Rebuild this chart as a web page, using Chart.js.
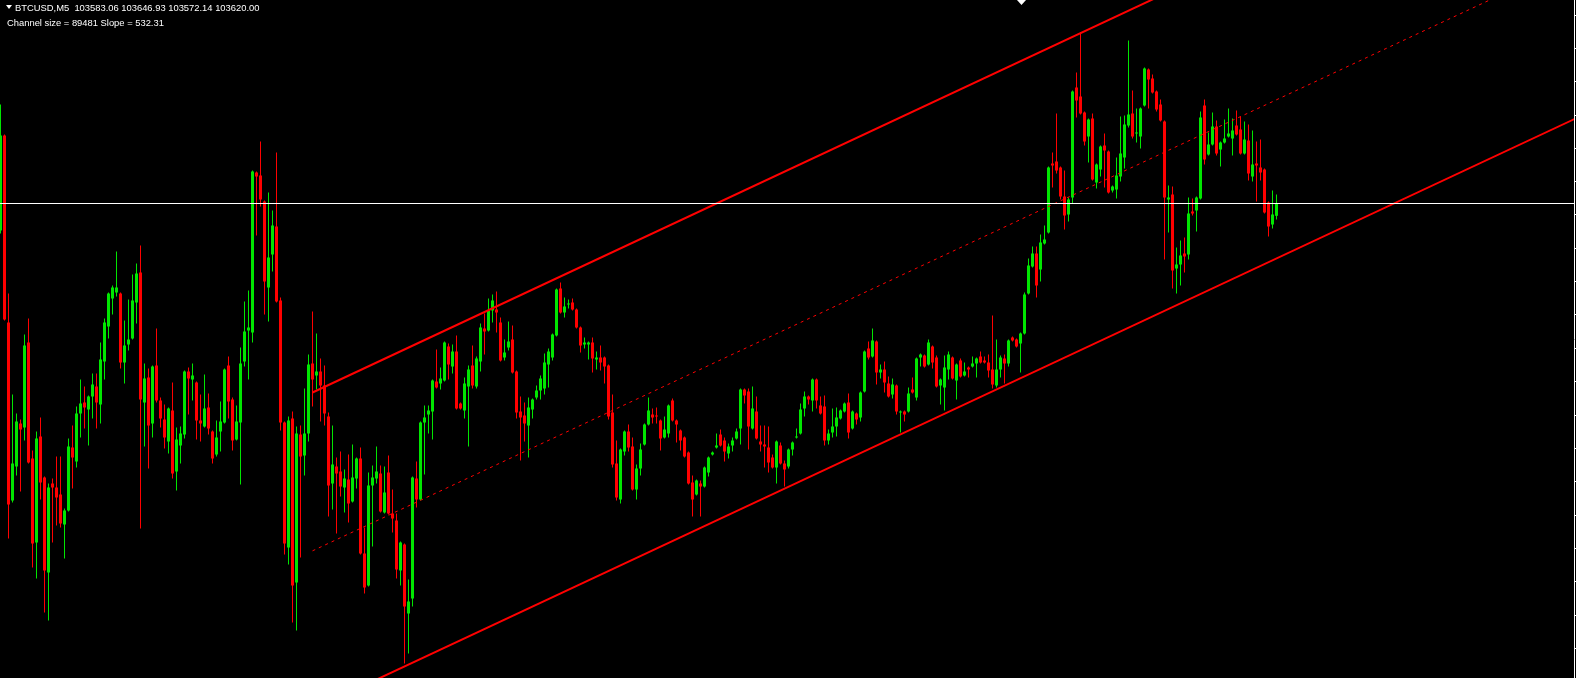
<!DOCTYPE html>
<html lang="en">
<head>
    <meta charset="UTF-8">
    <title>BTCUSD,M5</title>
    <script src="https://cdn.jsdelivr.net/npm/chart.js"></script>
    <style>
        html, body { margin: 0; padding: 0; background: #000; }
        .wrap { position: relative; width: 1576px; height: 678px; overflow: hidden; }
        canvas { display: block; background: #000; }
        .info { position: absolute; color: #fff; font-family: "Liberation Sans", Arial, sans-serif; font-size: 9.4px; line-height: 9px; white-space: pre; }
        #line1 { left: 15px; top: 3px; }
        #line2 { left: 7px; top: 18px; }
    </style>
</head>
<body>
<div class="wrap">
    <canvas id="chart" width="1576" height="678"></canvas>
    <div class="info" id="line1">BTCUSD,M5  103583.06 103646.93 103572.14 103620.00</div>
    <div class="info" id="line2">Channel size = 89481 Slope = 532.31</div>
</div>

<script>
    // BTCUSD M5 candles, one value per bar (oldest first)
    const opens = [
        103539, 103824, 103263, 102729, 102831, 102960, 102948, 103203, 102855, 102603,
        102921, 102798, 102513, 102780, 102768, 102747, 102657, 102699, 102888, 102846,
        102990, 103023, 103002, 103041, 103071, 103017, 103146, 103251, 103335, 103353,
        103350, 103143, 103197, 103215, 103323, 103413, 103023, 103098, 102960, 103134,
        103029, 102972, 102906, 102999, 102816, 102894, 102927, 103116, 103092, 103083,
        102969, 102951, 103008, 102936, 102867, 102936, 102963, 103134, 103032, 102912,
        102963, 103146, 103239, 103233, 103713, 103704, 103626, 103368, 103467, 103551,
        103329, 102963, 102588, 102975, 102483, 102927, 102864, 102930, 103140, 103104,
        103116, 103074, 102981, 102780, 102831, 102816, 102768, 102792, 102726, 102795,
        102855, 102570, 102474, 102774, 102795, 102810, 102693, 102813, 102690, 102669,
        102519, 102597, 102390, 102435, 102795, 102732, 102963, 102987, 102996, 103086,
        103080, 103089, 103191, 103131, 103176, 103020, 102999, 103071, 103134, 103071,
        103146, 103245, 103239, 103299, 103302, 103263, 103158, 103188, 103212, 103116,
        102996, 102984, 102954, 103002, 103038, 103059, 103065, 103137, 103158, 103224,
        103365, 103293, 103317, 103323, 103302, 103248, 103197, 103197, 103203, 103152,
        103158, 103158, 103134, 102993, 102840, 102732, 102876, 102936, 102891, 102762,
        102825, 102897, 102957, 102987, 102984, 102969, 102918, 102930, 103029, 102969,
        102939, 102918, 102873, 102783, 102747, 102780, 102771, 102813, 102867, 102888,
        102927, 102909, 102870, 102894, 102915, 102945, 103062, 103056, 102945, 102996,
        102906, 102897, 102888, 102858, 102828, 102894, 102840, 102831, 102882, 102918,
        102930, 103005, 103041, 103029, 103092, 103014, 103011, 102909, 102933, 102951,
        102975, 102996, 103023, 102945, 102990, 102978, 103056, 103185, 103161, 103206,
        103113, 103122, 103080, 103047, 103074, 102993, 102996, 102996, 103062, 103038,
        103158, 103164, 103137, 103191, 103158, 103074, 103068, 103122, 103158, 103089,
        103149, 103104, 103128, 103131, 103140, 103161, 103149, 103143, 103122, 103074,
        103122, 103155, 103140, 103218, 103212, 103200, 103230, 103350, 103431, 103470,
        103422, 103500, 103533, 103740, 103746, 103728, 103641, 103587, 103638, 103968,
        103941, 103893, 103821, 103875, 103683, 103722, 103794, 103776, 103659, 103662,
        103701, 103758, 103854, 103890, 103830, 103821, 103914, 104022, 103995, 103956,
        103917, 103866, 103632, 103647, 103425, 103437, 103470, 103467, 103596, 103599,
        103635, 103914, 103767, 103797, 103851, 103782, 103803, 103821, 103815, 103854,
        103842, 103770, 103809, 103701, 103740, 103728, 103722, 103623, 103557, 103583.06
    ];
    const highs = [
        103917, 103827, 103350, 103047, 102990, 102972, 103227, 103275, 102879, 102936,
        102978, 102801, 102780, 102795, 102861, 102861, 102705, 102915, 102954, 103011,
        103092, 103071, 103044, 103110, 103110, 103203, 103275, 103353, 103374, 103476,
        103353, 103269, 103332, 103407, 103440, 103494, 103140, 103125, 103134, 103245,
        103038, 103017, 103008, 103083, 102948, 102951, 103119, 103128, 103140, 103086,
        103047, 103107, 103050, 102939, 102969, 103026, 103125, 103161, 103038, 103014,
        103188, 103326, 103359, 103719, 103716, 103806, 103629, 103653, 103599, 103773,
        103338, 102966, 102981, 102996, 102951, 102954, 103065, 103167, 103296, 103230,
        103155, 103134, 102993, 102954, 102858, 102876, 102822, 102867, 102897, 102858,
        102888, 102648, 102813, 102834, 102891, 102834, 102831, 102864, 102762, 102690,
        102606, 102600, 102492, 102801, 102846, 102966, 103014, 103014, 103092, 103182,
        103128, 103206, 103200, 103197, 103224, 103023, 103098, 103134, 103194, 103161,
        103260, 103290, 103335, 103347, 103356, 103278, 103212, 103266, 103254, 103119,
        103041, 103023, 103038, 103035, 103074, 103104, 103170, 103185, 103230, 103365,
        103383, 103338, 103332, 103335, 103305, 103251, 103218, 103206, 103218, 103176,
        103194, 103161, 103137, 103047, 102909, 102885, 102939, 102957, 102918, 102837,
        102900, 102960, 103038, 103005, 103008, 102972, 102981, 103017, 103035, 102972,
        102942, 102921, 102876, 102804, 102792, 102789, 102831, 102861, 102876, 102930,
        102942, 102918, 102900, 102918, 102945, 103065, 103065, 103065, 103071, 103041,
        102954, 102954, 102951, 102867, 102909, 102903, 102849, 102885, 102906, 102945,
        103020, 103056, 103044, 103095, 103095, 103041, 103044, 102942, 103005, 103008,
        103002, 103023, 103050, 102999, 102993, 103056, 103179, 103206, 103245, 103209,
        103137, 103146, 103101, 103095, 103077, 102999, 102999, 103068, 103098, 103158,
        103170, 103167, 103212, 103194, 103164, 103095, 103164, 103176, 103161, 103140,
        103155, 103143, 103131, 103161, 103158, 103176, 103161, 103167, 103284, 103212,
        103164, 103167, 103212, 103221, 103215, 103233, 103353, 103455, 103491, 103491,
        103527, 103554, 103731, 103773, 103890, 103731, 103719, 103638, 103959, 104013,
        104133, 103896, 103875, 103890, 103740, 103794, 103830, 103779, 103674, 103758,
        103881, 103884, 104109, 103959, 103905, 103908, 104028, 104025, 104007, 103959,
        103932, 103869, 103674, 103671, 103488, 103509, 103518, 103638, 103635, 103641,
        103896, 103932, 103833, 103893, 103869, 103806, 103872, 103905, 103875, 103899,
        103881, 103866, 103857, 103839, 103806, 103812, 103725, 103626, 103659, 103646.93
    ];
    const lows = [
        103530, 103269, 102615, 102723, 102804, 102756, 102909, 102840, 102528, 102495,
        102732, 102393, 102369, 102603, 102654, 102648, 102555, 102696, 102765, 102828,
        102918, 102945, 102894, 102975, 102945, 102960, 103092, 103215, 103287, 103341,
        103125, 103080, 103179, 103212, 103260, 102645, 102891, 102825, 102918, 103023,
        102948, 102885, 102870, 102795, 102759, 102840, 102915, 102987, 103029, 102912,
        102906, 102948, 102927, 102840, 102861, 102876, 102960, 102975, 102879, 102909,
        102777, 103131, 103092, 103203, 103524, 103611, 103287, 103266, 103416, 103323,
        102939, 102567, 102537, 102363, 102339, 102558, 102804, 102906, 103011, 103062,
        102966, 102954, 102681, 102702, 102630, 102741, 102693, 102663, 102723, 102765,
        102567, 102450, 102471, 102591, 102780, 102693, 102690, 102687, 102633, 102495,
        102474, 102240, 102270, 102411, 102708, 102729, 102807, 102930, 102912, 103065,
        103062, 103086, 103092, 103110, 103002, 103002, 102975, 102891, 103065, 103065,
        103116, 103167, 103236, 103263, 103233, 103146, 103149, 103179, 103110, 102975,
        102849, 102906, 102858, 102975, 103032, 103032, 103047, 103068, 103149, 103221,
        103290, 103278, 103305, 103299, 103245, 103173, 103185, 103152, 103113, 103122,
        103119, 103080, 102972, 102828, 102729, 102720, 102864, 102876, 102759, 102732,
        102804, 102894, 102954, 102960, 102960, 102879, 102915, 102918, 102966, 102903,
        102879, 102858, 102777, 102681, 102744, 102681, 102768, 102801, 102864, 102885,
        102891, 102846, 102855, 102876, 102912, 102897, 103020, 102882, 102942, 102912,
        102876, 102828, 102813, 102825, 102780, 102837, 102771, 102825, 102864, 102915,
        102927, 102981, 103017, 102996, 103005, 102987, 102894, 102897, 102918, 102921,
        102972, 102993, 102915, 102942, 102957, 102966, 103053, 103152, 103158, 103077,
        103095, 103053, 103038, 103035, 102987, 102933, 102966, 102993, 103050, 103029,
        103131, 103128, 103134, 103125, 103068, 103017, 102999, 103092, 103092, 103032,
        103098, 103101, 103098, 103128, 103098, 103140, 103140, 103098, 103065, 103068,
        103098, 103080, 103131, 103206, 103188, 103113, 103227, 103347, 103428, 103338,
        103386, 103497, 103530, 103668, 103710, 103632, 103542, 103566, 103620, 103878,
        103887, 103794, 103743, 103689, 103665, 103701, 103668, 103650, 103653, 103635,
        103686, 103725, 103848, 103815, 103803, 103785, 103911, 103905, 103950, 103896,
        103866, 103452, 103533, 103365, 103350, 103374, 103413, 103452, 103584, 103536,
        103632, 103737, 103764, 103794, 103764, 103731, 103800, 103818, 103764, 103824,
        103767, 103767, 103689, 103686, 103626, 103689, 103590, 103521, 103545, 103572.14
    ];
    const closes = [
        103824, 103272, 102717, 102840, 102966, 102942, 103194, 102843, 102600, 102915,
        102783, 102519, 102768, 102768, 102738, 102660, 102699, 102891, 102858, 102990,
        103020, 103008, 103041, 103077, 103023, 103152, 103263, 103350, 103368, 103368,
        103143, 103194, 103212, 103329, 103410, 103032, 103095, 102954, 103131, 103029,
        102975, 102918, 103005, 102810, 102912, 102930, 103116, 103095, 103104, 102969,
        102960, 103005, 102945, 102855, 102918, 102966, 103122, 103026, 102909, 102966,
        103140, 103236, 103248, 103716, 103701, 103632, 103386, 103458, 103554, 103326,
        102963, 102600, 102969, 102474, 102930, 102861, 102930, 103137, 103092, 103116,
        103074, 102990, 102774, 102837, 102810, 102771, 102795, 102720, 102798, 102855,
        102570, 102468, 102774, 102798, 102816, 102696, 102753, 102690, 102675, 102522,
        102603, 102411, 102426, 102798, 102732, 102963, 102978, 102999, 103089, 103068,
        103095, 103203, 103137, 103176, 103005, 103005, 103080, 103122, 103074, 103155,
        103248, 103236, 103299, 103329, 103293, 103149, 103173, 103206, 103113, 102993,
        102978, 102960, 103008, 103032, 103059, 103095, 103143, 103176, 103227, 103362,
        103293, 103311, 103320, 103302, 103248, 103194, 103203, 103203, 103155, 103158,
        103143, 103131, 102981, 102837, 102738, 102882, 102936, 102888, 102762, 102825,
        102882, 102957, 102999, 102978, 102981, 102915, 102942, 103014, 102969, 102957,
        102909, 102861, 102780, 102732, 102789, 102771, 102828, 102858, 102873, 102894,
        102894, 102876, 102891, 102909, 102936, 103062, 103044, 102951, 103005, 102915,
        102897, 102891, 102843, 102828, 102906, 102840, 102822, 102882, 102903, 102921,
        103002, 103041, 103032, 103092, 103029, 102990, 102909, 102930, 102951, 102978,
        102999, 103020, 102933, 102996, 102972, 103053, 103176, 103158, 103209, 103113,
        103122, 103083, 103041, 103077, 102996, 102996, 102987, 103050, 103053, 103155,
        103167, 103131, 103203, 103143, 103071, 103092, 103128, 103167, 103095, 103137,
        103101, 103116, 103122, 103140, 103155, 103143, 103143, 103119, 103077, 103122,
        103158, 103140, 103209, 103209, 103191, 103230, 103347, 103434, 103470, 103374,
        103503, 103512, 103728, 103734, 103719, 103641, 103584, 103632, 103956, 103929,
        103890, 103806, 103872, 103692, 103737, 103791, 103779, 103653, 103671, 103704,
        103770, 103857, 103887, 103821, 103833, 103905, 104025, 103992, 103953, 103902,
        103869, 103638, 103638, 103419, 103437, 103464, 103461, 103590, 103590, 103638,
        103878, 103752, 103797, 103851, 103770, 103803, 103815, 103830, 103839, 103827,
        103770, 103812, 103710, 103737, 103734, 103713, 103593, 103551, 103587, 103620
    ];

    // price channel: anchor bar indexes and the three lines' prices there
    const channelBars = [78, 400];
    const channelUpper = [103053, 104861];
    const channelMiddle = [102578, 104386];
    const channelLower = [102102, 103910];

    // price scale grid (labels sit off-screen, only the tick marks show)
    const priceTicks = [
        104185.5, 104085.5, 103985.5, 103885.5, 103785.5, 103685.5, 103585.5,
        103485.5, 103385.5, 103285.5, 103185.5, 103085.5, 102985.5, 102885.5,
        102785.5, 102685.5, 102585.5, 102485.5, 102385.5, 102285.5
    ];

    const BULL = '#00e600';
    const BEAR = '#ff0000';
    const lastPrice = closes[closes.length - 1];

    const colors = closes.map((c, i) => c >= opens[i] ? BULL : BEAR);
    const wicks = closes.map((_, i) => ({ x: i, y: [lows[i], highs[i]] }));
    const bodies = closes.map((_, i) => ({ x: i, y: [opens[i], closes[i]] }));
    const lineData = prices => channelBars.map((b, i) => ({ x: b, y: prices[i] }));

    // little white arrows of the terminal window (header toggle + chart shift)
    const markers = {
        id: 'markers',
        afterDraw(chart) {
            const c = chart.ctx;
            c.save();
            c.fillStyle = '#ffffff';
            c.beginPath();
            c.moveTo(6, 5); c.lineTo(12, 5); c.lineTo(9, 9);
            c.closePath();
            c.fill();
            c.beginPath();
            c.moveTo(1017, 0); c.lineTo(1026, 0); c.lineTo(1021.5, 5);
            c.closePath();
            c.fill();
            c.restore();
        }
    };

    new Chart(document.getElementById('chart'), {
        type: 'bar',
        data: {
            datasets: [
                {
                    type: 'line',
                    label: 'Bid',
                    data: [{ x: -1, y: lastPrice }, { x: 400, y: lastPrice }],
                    borderColor: '#ffffff',
                    borderWidth: 1,
                    pointRadius: 0
                },
                {
                    type: 'line',
                    label: 'Upper',
                    data: lineData(channelUpper),
                    borderColor: '#ff0000',
                    borderWidth: 2,
                    pointRadius: 0
                },
                {
                    type: 'line',
                    label: 'Middle',
                    data: lineData(channelMiddle),
                    borderColor: '#ff0000',
                    borderWidth: 1,
                    borderDash: [3, 4],
                    pointRadius: 0
                },
                {
                    type: 'line',
                    label: 'Lower',
                    data: lineData(channelLower),
                    borderColor: '#ff0000',
                    borderWidth: 2,
                    pointRadius: 0
                },
                {
                    label: 'Wicks',
                    data: wicks,
                    backgroundColor: colors,
                    barThickness: 1
                },
                {
                    label: 'Bodies',
                    data: bodies,
                    backgroundColor: colors,
                    barThickness: 3,
                    minBarLength: 1
                }
            ]
        },
        options: {
            responsive: false,
            animation: false,
            devicePixelRatio: 1,
            layout: { padding: 0 },
            datasets: {
                bar: { grouped: false, inflateAmount: 0, borderWidth: 0 }
            },
            plugins: {
                legend: { display: false },
                tooltip: { enabled: false }
            },
            scales: {
                x: {
                    type: 'linear',
                    display: false,
                    offset: false,
                    min: -0.125,
                    max: 393.375
                },
                y: {
                    position: 'right',
                    min: 102196.5,
                    max: 104230.5,
                    afterBuildTicks: axis => {
                        axis.ticks = priceTicks.map(v => ({ value: v }));
                    },
                    ticks: { display: false },
                    grid: { drawOnChartArea: false, drawTicks: true, tickLength: 2, color: '#ffffff' },
                    border: { display: true, color: '#ffffff', width: 1 }
                }
            }
        },
        plugins: [markers]
    });
</script>
</body>
</html>
